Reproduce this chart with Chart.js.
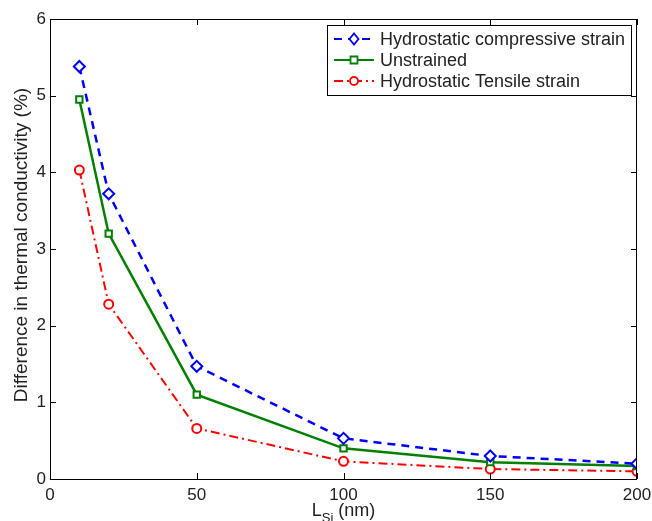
<!DOCTYPE html>
<html>
<head>
<meta charset="utf-8">
<script src="https://cdn.jsdelivr.net/npm/chart.js@4"></script>
<style>
  html, body { margin: 0; padding: 0; background: #fff; }
  #wrap { width: 652px; height: 521px; }
</style>
</head>
<body>
<div id="wrap"><canvas id="chart"></canvas></div>
<script>
// data
var lengths = [10, 20, 50, 100, 150, 200];
var compressive = [5.38, 3.72, 1.47, 0.53, 0.30, 0.20];
var unstrained = [4.95, 3.20, 1.10, 0.40, 0.22, 0.17];
var tensile = [4.03, 2.28, 0.66, 0.23, 0.13, 0.10];
var xTicks = [0, 50, 100, 150, 200];
var yTicks = [0, 1, 2, 3, 4, 5, 6];

var seriesNames = ['Hydrostatic compressive strain', 'Unstrained', 'Hydrostatic Tensile strain'];

function pts(ys) {
    return lengths.map(function(x, i) { return { x: x, y: ys[i] }; });
}

var FONT = '"Liberation Sans", Arial, sans-serif';

// box, inward ticks, titles and legend inside the axes
var matlabBox = {
    id: 'matlabBox',
    afterDraw: function(chart) {
        var c = chart.ctx, a = chart.chartArea;
        var xs = chart.scales.x, ys = chart.scales.y;
        c.save();
        c.strokeStyle = '#000';
        c.lineWidth = 1;
        c.strokeRect(a.left + 0.5, a.top + 0.5, a.right - a.left - 1, a.bottom - a.top);
        c.beginPath();
        xTicks.forEach(function(v) {
            var px = Math.round(xs.getPixelForValue(v)) + 0.5;
            c.moveTo(px, a.bottom); c.lineTo(px, a.bottom - 6);
            c.moveTo(px, a.top); c.lineTo(px, a.top + 6);
        });
        yTicks.forEach(function(v) {
            var py = Math.round(ys.getPixelForValue(v)) + 0.5;
            c.moveTo(a.left, py); c.lineTo(a.left + 6, py);
            c.moveTo(a.right, py); c.lineTo(a.right - 6, py);
        });
        c.stroke();

        // axis titles
        c.fillStyle = '#222';
        c.font = '19px ' + FONT;
        c.textAlign = 'center';
        c.textBaseline = 'middle';
        c.save();
        c.translate(22, (a.top + a.bottom) / 2 - 4);
        c.rotate(-Math.PI / 2);
        c.fillText('Difference in thermal conductivity (%)', 0, 0);
        c.restore();

        var cx = (a.left + a.right) / 2;
        c.textAlign = 'left';
        c.textBaseline = 'alphabetic';
        c.font = '18px ' + FONT;
        var wL = c.measureText('L').width;
        c.font = '13px ' + FONT;
        var wS = c.measureText('Si').width;
        c.font = '18px ' + FONT;
        var wR = c.measureText(' (nm)').width;
        var x0 = cx - (wL + wS + wR) / 2;
        var base = 516;
        c.fillText('L', x0, base);
        c.font = '13px ' + FONT;
        c.fillText('Si', x0 + wL, base + 6);
        c.font = '18px ' + FONT;
        c.fillText(' (nm)', x0 + wL + wS, base);

        // legend
        var lx = 327, ly = 25, lw = 304, lh = 70;
        c.fillStyle = '#fff';
        c.fillRect(lx, ly, lw, lh);
        c.strokeStyle = '#000';
        c.lineWidth = 1;
        c.strokeRect(lx + 0.5, ly + 0.5, lw, lh);
        chart.data.datasets.forEach(function(ds, i) {
            var yy = ly + 14 + i * 21;
            c.save();
            c.strokeStyle = ds.borderColor;
            c.lineWidth = 2;
            c.setLineDash(ds.borderDash || []);
            c.beginPath();
            c.moveTo(lx + 7, yy); c.lineTo(lx + 47, yy);
            c.stroke();
            c.setLineDash([]);
            c.lineWidth = 1.8;
            var mx = lx + 27, r = 4.5;
            c.beginPath();
            if (ds.pointStyle === 'rectRot') {
                c.moveTo(mx, yy - r - 1); c.lineTo(mx + r, yy); c.lineTo(mx, yy + r + 1); c.lineTo(mx - r, yy); c.closePath();
            } else if (ds.pointStyle === 'rect') {
                c.rect(mx - 3.5, yy - 3.5, 7, 7);
            } else {
                c.arc(mx, yy, 4, 0, Math.PI * 2);
            }
            c.fillStyle = '#fff';
            c.fill();
            c.stroke();
            c.restore();
            c.fillStyle = '#222';
            c.font = '18px ' + FONT;
            c.textBaseline = 'middle';
            c.fillText(ds.label, lx + 53, yy + 1);
        });
        c.restore();
    }
};

var ctx = document.getElementById('chart');
var myChart = new Chart(ctx, {
    type: 'line',
    data: {
        datasets: [{
            label: seriesNames[0],
            data: pts(compressive),
            borderColor: '#0000ff',
            borderWidth: 2.5,
            borderDash: [8, 6],
            pointStyle: 'rectRot',
            pointRadius: 5.5,
            pointBorderWidth: 2,
            pointBackgroundColor: '#fff',
            pointBorderColor: '#0000ff',
            tension: 0
        }, {
            label: seriesNames[1],
            data: pts(unstrained),
            borderColor: '#008000',
            borderWidth: 2.5,
            pointStyle: 'rect',
            pointRadius: 4.5,
            pointBorderWidth: 2,
            pointBackgroundColor: '#fff',
            pointBorderColor: '#008000',
            tension: 0
        }, {
            label: seriesNames[2],
            data: pts(tensile),
            borderColor: '#ff0000',
            borderWidth: 2,
            borderDash: [9, 4, 2, 4],
            pointStyle: 'circle',
            pointRadius: 4.5,
            pointBorderWidth: 2,
            pointBackgroundColor: '#fff',
            pointBorderColor: '#ff0000',
            tension: 0
        }]
    },
    options: {
        responsive: true,
        maintainAspectRatio: false,
        animation: false,
        layout: { padding: { top: 19, right: 15, left: 0, bottom: 0 } },
        plugins: {
            legend: { display: false },
            tooltip: { enabled: false }
        },
        scales: {
            x: {
                type: 'linear',
                min: 0,
                max: 200,
                afterFit: function(s) { s.height = 42; s.paddingRight = 0; s.paddingLeft = 0; },
                afterBuildTicks: function(s) { s.ticks = xTicks.map(function(v) { return { value: v }; }); },
                grid: { display: false, drawTicks: false },
                border: { display: false },
                ticks: { color: '#222', padding: 6, font: { size: 17, family: FONT }, maxRotation: 0 }
            },
            y: {
                type: 'linear',
                min: 0,
                max: 6,
                afterFit: function(s) { s.width = 50; s.paddingTop = 0; s.paddingBottom = 0; },
                afterBuildTicks: function(s) { s.ticks = yTicks.map(function(v) { return { value: v }; }); },
                grid: { display: false, drawTicks: false },
                border: { display: false },
                ticks: { color: '#222', padding: 4, font: { size: 17, family: FONT } }
            }
        }
    },
    plugins: [matlabBox]
});
</script>
</body>
</html>
